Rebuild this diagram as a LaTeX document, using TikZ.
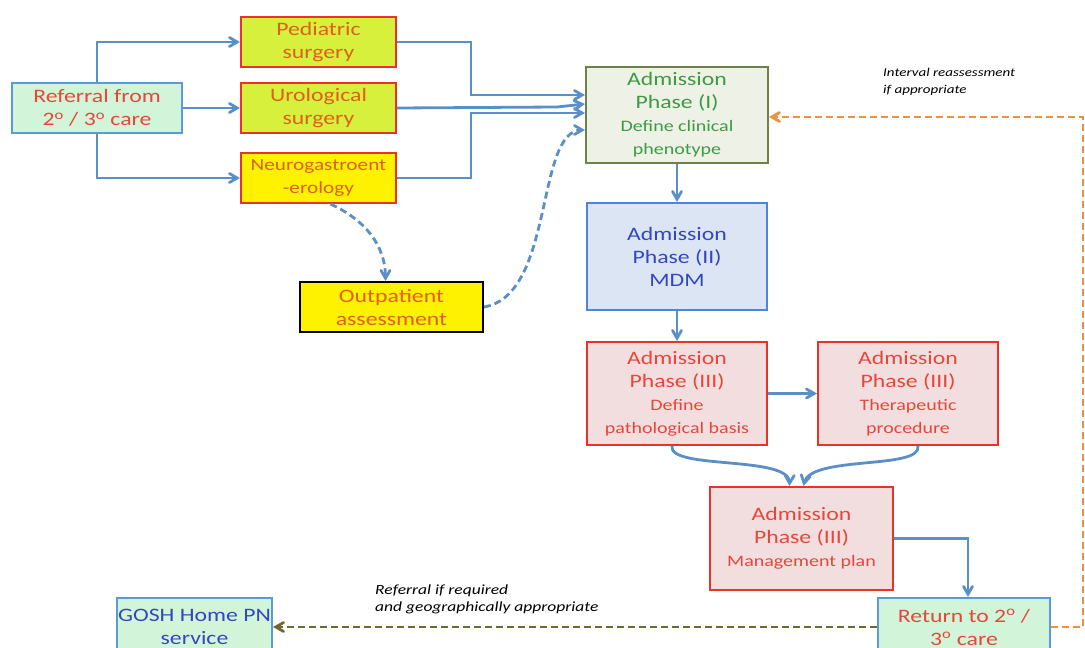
\documentclass[tikz,border=0pt]{standalone}
\usepackage{fontspec}
\setmainfont{Carlito}[FakeStretch=1.25]
\usetikzlibrary{arrows,positioning,shapes}
\definecolor{connblue}{HTML}{5B8FC8}
\definecolor{boxblue}{HTML}{5B9BD5}
\definecolor{mintfill}{HTML}{D2F5DA}
\definecolor{limefill}{HTML}{D6F03C}
\definecolor{redline}{HTML}{E8322A}
\definecolor{orangetext}{HTML}{E0601A}
\definecolor{redtext}{HTML}{E5473A}
\definecolor{olivefill}{HTML}{EEF1E6}
\definecolor{oliveline}{HTML}{6E8146}
\definecolor{greentext}{HTML}{3F9A44}
\definecolor{bluefill}{HTML}{DCE5F3}
\definecolor{blueline}{HTML}{4D85DD}
\definecolor{bluetext}{HTML}{3348C0}
\definecolor{pinkfill}{HTML}{F3DEDF}
\definecolor{dashorange}{HTML}{F0903A}
\definecolor{dasholive}{HTML}{6E6A2C}

\begin{document}
\begin{tikzpicture}[x=1pt,y=-1pt,>=angle 60,
  box/.style={draw,line width=2pt,align=center,inner sep=0pt,
    font=\fontsize{19}{23}\selectfont},
  conn/.style={draw=connblue,line width=2.8pt,->},
  dconn/.style={conn,dashed,dash pattern=on 7pt off 4pt},
  note/.style={align=left,inner sep=0pt,font=\fontsize{12}{17}\selectfont\itshape}]
\clip (0,0) rectangle (1085,648);
% first line of referrals
\node[box,draw=boxblue,fill=mintfill,text=redtext,minimum width=170,minimum height=50] (ref) at (97,108) {Referral from\\2\textsuperscript{o} / 3\textsuperscript{o} care};
\node[box,draw=redline,fill=limefill,text=orangetext,minimum width=155,minimum height=50] (ped) at (318.5,42) {Pediatric\\surgery};
\node[box,draw=redline,fill=limefill,text=orangetext,minimum width=155,minimum height=50] (uro) at (318.5,108) {Urological\\surgery};
\node[box,draw=redline,fill=yellow,text=orangetext,minimum width=155,minimum height=50,font=\fontsize{17}{23}\selectfont] (neu) at (318.5,178) {Neurogastroent\\-erology};
\node[box,draw=black,fill=yellow,text=orangetext,minimum width=183,minimum height=50] (out) at (391.5,307) {Outpatient\\assessment};
% admission phases
\node[box,draw=oliveline,fill=olivefill,text=greentext,minimum width=182,minimum height=96] (ph1) at (677,115) {Admission\\Phase (I)\\{\fontsize{16}{21}\selectfont Define clinical}\\{\fontsize{16}{21}\selectfont phenotype}};
\node[box,draw=blueline,fill=bluefill,text=bluetext,minimum width=180,minimum height=107] (ph2) at (677,256.5) {Admission\\Phase (II)\\MDM};
\node[box,draw=redline,fill=pinkfill,text=redtext,minimum width=180,minimum height=103] (ph3a) at (677,393.5) {Admission\\Phase (III)\\{\fontsize{16}{21}\selectfont Define}\\{\fontsize{16}{21}\selectfont pathological basis}};
\node[box,draw=redline,fill=pinkfill,text=redtext,minimum width=180,minimum height=103] (ph3b) at (908,393.5) {Admission\\Phase (III)\\{\fontsize{16}{21}\selectfont Therapeutic}\\{\fontsize{16}{21}\selectfont procedure}};
\node[box,draw=redline,fill=pinkfill,text=redtext,minimum width=183,minimum height=103] (ph3c) at (801.5,538.5) {Admission\\Phase (III)\\{\fontsize{16}{21}\selectfont Management plan}};
% discharge
\node[box,draw=boxblue,fill=mintfill,text=bluetext,minimum width=155,minimum height=58] (gosh) at (194.5,627) {GOSH Home PN\\service};
\node[box,draw=boxblue,fill=mintfill,text=redtext,minimum width=172,minimum height=58] (ret) at (964,627) {Return to 2\textsuperscript{o} /\\3\textsuperscript{o} care};
% notes
\node[note,anchor=north west] (noteint) at (883,68) {Interval reassessment\\if appropriate};
\node[note,anchor=north west,font=\fontsize{14}{17}\selectfont\itshape] (noteref) at (375,585) {Referral if required\\and geographically appropriate};
% connectors
\draw[conn] (ref.north) |- (ped.west);
\draw[conn] (ref.east) -- (uro.west);
\draw[conn] (ref.south) |- (neu.west);
\draw[conn] (ped.east) -- ++(74,0) |- ([yshift=20pt]ph1.west);
\draw[conn] (uro.east) -- ++(160,-1) -- ([yshift=11pt]ph1.west);
\draw[conn] (neu.east) -- ++(74,0) |- ([yshift=2pt]ph1.west);
\draw[dconn] ([xshift=12pt]neu.south) to[out=-25,in=90] ([xshift=-6pt]out.north);
\draw[dconn] (out.east) .. controls (555,295) and (535,130) .. ([yshift=-15pt]ph1.west);
\draw[conn] (ph1) -- (ph2);
\draw[conn] (ph2) -- (ph3a);
\draw[conn] (ph3a) -- (ph3b);
\draw[conn] ([xshift=-5pt]ph3a.south) .. controls (668,470) and (790,455) .. ([xshift=-12pt]ph3c.north);
\draw[conn] ([xshift=10pt]ph3b.south) .. controls (922,470) and (810,455) .. ([xshift=2pt]ph3c.north);
\draw[conn] (ph3c.east) -| ([xshift=4pt]ret.north);
\draw[dconn,draw=dasholive] (ret.west) -- (gosh.east);
\draw[dconn,draw=dashorange] (ret.east) -- ++(32,0) |- ([yshift=-2pt]ph1.east);
\end{tikzpicture}
\end{document}
